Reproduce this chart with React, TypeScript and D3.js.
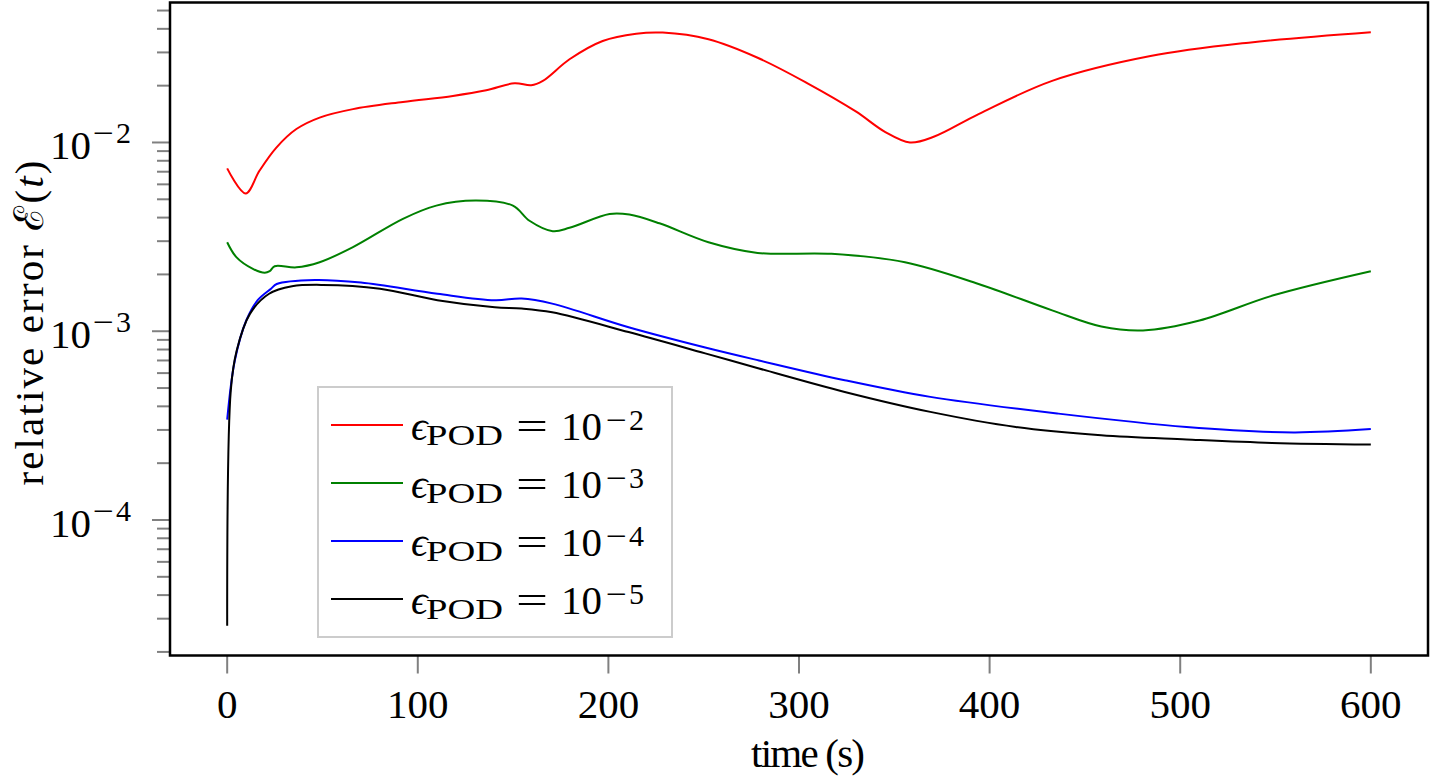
import React from "react";
import * as d3 from "d3";

// ---- data (time in s, relative error) ----
const redT = [0, 9.7, 17, 25.8, 36.3, 48.5, 66, 92.2, 118.4, 135.9, 150.8, 159.5, 165.6, 179.6, 197, 214.6, 228.5, 252.5, 278.3, 304, 329.8, 345.3, 358.2, 371, 394.2, 432.8, 484.4, 535.9, 600];
const redV = [7.29e-3, 5.37e-3, 7.1e-3, 9.4e-3, 0.01178, 0.01355, 0.01502, 0.0164, 0.01765, 0.0189, 0.0206, 0.0201, 0.0212, 0.0276, 0.0345, 0.0377, 0.0382, 0.0352, 0.0281, 0.0207, 0.0146, 0.01135, 0.0100, 0.01075, 0.01413, 0.0212, 0.0287, 0.0338, 0.0384];

const greenT = [0, 4.8, 13.5, 19.7, 22.3, 24.9, 36.3, 48.5, 66, 92.2, 109.7, 130.7, 149.9, 158.6, 170.8, 179.6, 200.6, 211, 226.8, 252.5, 278.3, 317, 355.6, 394.2, 432.8, 458.6, 480.5, 510.1, 548.9, 600];
const greenV = [2.96e-3, 2.47e-3, 2.14e-3, 2.04e-3, 2.08e-3, 2.21e-3, 2.18e-3, 2.32e-3, 2.79e-3, 3.94e-3, 4.63e-3, 4.92e-3, 4.63e-3, 3.85e-3, 3.39e-3, 3.53e-3, 4.18e-3, 4.15e-3, 3.73e-3, 2.96e-3, 2.6e-3, 2.57e-3, 2.32e-3, 1.78e-3, 1.29e-3, 1.06e-3, 1.01e-3, 1.14e-3, 1.55e-3, 2.08e-3];

const blueT = [0, 4, 10, 16, 23, 26, 46, 70.2, 110.3, 140.4, 154.5, 170.5, 210.6, 250.8, 279, 324, 368.9, 436.1, 503.3, 559.4, 600];
const blueV = [3.4e-4, 7.0e-4, 1.14e-3, 1.46e-3, 1.68e-3, 1.78e-3, 1.87e-3, 1.81e-3, 1.58e-3, 1.46e-3, 1.49e-3, 1.40e-3, 1.05e-3, 8.2e-4, 7.0e-4, 5.5e-4, 4.49e-4, 3.66e-4, 3.11e-4, 2.91e-4, 3.03e-4];

const blackT = [0, 1.9, 5, 12, 22, 34, 50.1, 80.2, 110.3, 140.4, 154.5, 170.5, 210.6, 250.8, 279, 324, 368.9, 413.7, 458.5, 503.3, 548.1, 600];
const blackV = [2.75e-5, 4.87e-4, 7.9e-4, 1.24e-3, 1.58e-3, 1.73e-3, 1.76e-3, 1.68e-3, 1.46e-3, 1.34e-3, 1.32e-3, 1.26e-3, 9.9e-4, 7.63e-4, 6.35e-4, 4.77e-4, 3.74e-4, 3.11e-4, 2.81e-4, 2.67e-4, 2.56e-4, 2.51e-4];

const seriesExps = ["2", "3", "4", "5"];
const seriesColors = ["#ff0000", "#008000", "#0000ff", "#000000"];
const xTicks = [0, 100, 200, 300, 400, 500, 600];
const yMajorExps = [-4, -3, -2];

const SERIF = "'Liberation Serif', 'DejaVu Serif', serif";

export default function App() {
  const left = 170, right = 1428, top = 2.5, bottom = 655.5;
  const series = [
    redT.map((t, i) => [t, redV[i]]),
    greenT.map((t, i) => [t, greenV[i]]),
    blueT.map((t, i) => [t, blueV[i]]),
    blackT.map((t, i) => [t, blackV[i]]),
  ];
  const allV = [...redV, ...greenV, ...blueV, ...blackV];
  const lo = Math.log10(d3.min(allV)!), hi = Math.log10(d3.max(allV)!);
  const pad = 0.05 * (hi - lo);
  const x = d3.scaleLinear().domain([-30, 630]).range([left, right]);
  const y = d3.scaleLog().domain([10 ** (lo - pad), 10 ** (hi + pad)]).range([bottom, top]);
  const line = d3.line<number[]>().x(d => x(d[0])).y(d => y(d[1])).curve(d3.curveCatmullRom.alpha(0.5));

  const minor: number[] = [];
  for (let e = -5; e <= -1; e++) for (let m = 2; m <= 9; m++) {
    const v = m * 10 ** e;
    const yy = y(v);
    if (yy >= top && yy <= bottom) minor.push(v);
  }

  const legendY = [425, 483, 541, 599];
  return (
    <svg width={1431} height={778} style={{ position: "absolute", left: 0, top: 0, background: "#fff" }}>
      <rect x={0} y={0} width={1431} height={778} fill="#fff" />
      {/* x ticks */}
      {xTicks.map(t => (
        <g key={"xt" + t}>
          <line x1={x(t)} x2={x(t)} y1={bottom} y2={bottom + 18} stroke="#808080" strokeWidth={2} />
          <text x={x(t)} y={718} fontSize={41} fontFamily={SERIF} textAnchor="middle">{t}</text>
        </g>
      ))}
      {/* y ticks */}
      {minor.map((v, i) => (
        <line key={"ym" + i} x1={left - 13} x2={left} y1={y(v)} y2={y(v)} stroke="#808080" strokeWidth={2} />
      ))}
      {yMajorExps.map(e => (
        <g key={"yt" + e}>
          <line x1={left - 18} x2={left} y1={y(10 ** e)} y2={y(10 ** e)} stroke="#808080" strokeWidth={2} />
          <text y={y(10 ** e) + 17} fontFamily={SERIF}>
            <tspan x={50} fontSize={41}>10</tspan>
            <tspan x={93} dy={-16} fontSize={30} textLength={21} lengthAdjust="spacingAndGlyphs">{"\u2212"}</tspan>
            <tspan x={116} fontSize={30}>{String(-e)}</tspan>
          </text>
        </g>
      ))}
      {/* lines */}
      <g>
        {series.map((s, i) => (
          <path key={"s" + i} d={line(s) || ""} fill="none" stroke={seriesColors[i]} strokeWidth={2} strokeLinejoin="round" />
        ))}
      </g>
      {/* frame */}
      <rect x={left} y={top} width={right - left} height={bottom - top} fill="none" stroke="#000" strokeWidth={2.5} />
      {/* legend */}
      <rect x={318} y={387} width={354} height={250} fill="#fff" stroke="#cccccc" strokeWidth={2} />
      {seriesExps.map((n, i) => (
        <g key={"lg" + i}>
          <line x1={331} x2={403} y1={legendY[i]} y2={legendY[i]} stroke={seriesColors[i]} strokeWidth={2} />
          <text y={legendY[i] + 15} fontFamily={SERIF}>
            <tspan x={411} fontSize={41} fontStyle="italic">{"\u03F5"}</tspan>
            <tspan x={426} dy={5} fontSize={29} textLength={77} lengthAdjust="spacingAndGlyphs">POD</tspan>
            <tspan x={516} dy={-5} fontSize={41} textLength={32} lengthAdjust="spacingAndGlyphs">=</tspan>
            <tspan x={561} fontSize={41}>10</tspan>
            <tspan x={606} dy={-10} fontSize={30} textLength={21} lengthAdjust="spacingAndGlyphs">{"\u2212"}</tspan>
            <tspan x={629} fontSize={30}>{n}</tspan>
          </text>
        </g>
      ))}
      {/* axis labels */}
      <text x={808} y={767} fontSize={41} fontFamily={SERIF} textAnchor="middle" textLength={114} lengthAdjust="spacing">time (s)</text>
      <text transform="translate(43,323) rotate(-90)" fontSize={41} fontFamily={SERIF} textAnchor="middle" textLength={325} lengthAdjust="spacing">
        relative error {"\u2130"}(<tspan fontStyle="italic">t</tspan>)
      </text>
    </svg>
  );
}
